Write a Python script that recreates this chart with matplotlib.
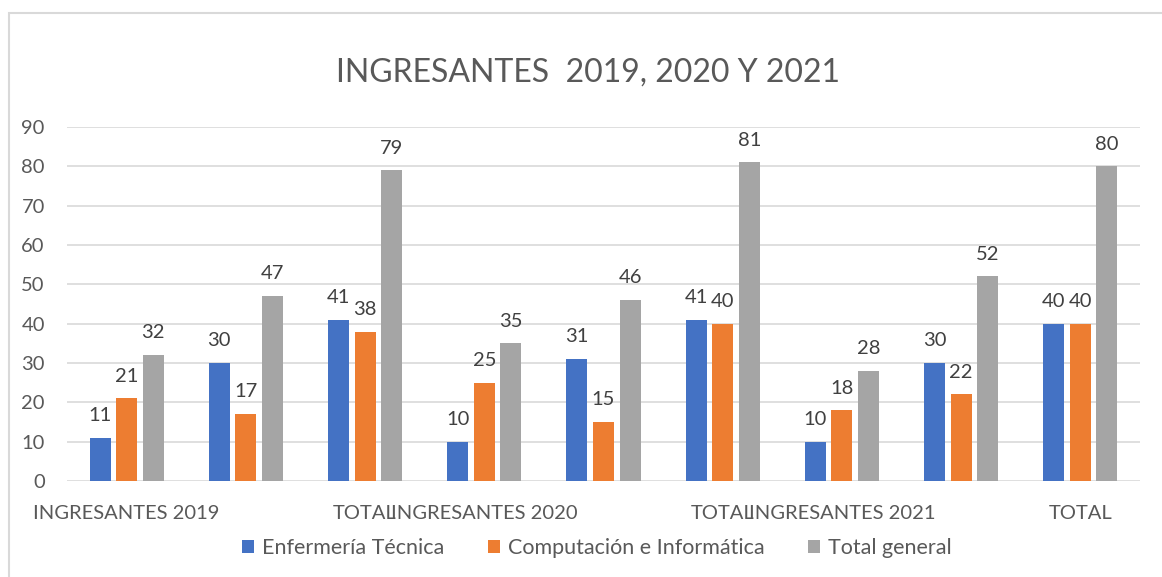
import numpy as np
import matplotlib.pyplot as plt
from matplotlib.patches import Rectangle

plt.rcParams['font.family'] = ['Lato', 'DejaVu Sans']

categorias = ['INGRESANTES 2019', '', 'TOTAL', 'INGRESANTES 2020', '', 'TOTAL',
              'INGRESANTES 2021', '', 'TOTAL']
enfermeria = [11, 30, 41, 10, 31, 41, 10, 30, 40]
computacion = [21, 17, 38, 25, 15, 40, 18, 22, 40]
total_general = [32, 47, 79, 35, 46, 81, 28, 52, 80]
series_nombres = ['Enfermería Técnica', 'Computación e Informática', 'Total general']
colores = ['#4472C4', '#ED7D31', '#A5A5A5']

TXT = '#595959'

fig = plt.figure(figsize=(11.62, 5.77), dpi=100)
ax = fig.add_axes([67 / 1162, 1 - 481 / 577, (1140 - 67) / 1162, (481 - 127) / 577])

x = np.arange(len(categorias))
ancho = 0.176
paso = 0.223
for i, (vals, nombre, col) in enumerate(zip([enfermeria, computacion, total_general],
                                            series_nombres, colores)):
    pos = x + (i - 1) * paso
    ax.bar(pos, vals, width=ancho, color=col, label=nombre, zorder=2)
    for px, v in zip(pos, vals):
        ax.annotate(str(v), (px, v), xytext=(0, 12), textcoords='offset points',
                    ha='center', va='baseline', fontsize=14.5, color='#404040')

ax.set_xlim(-0.5, len(categorias) - 0.5)
ax.set_ylim(0, 90)
ax.set_yticks(range(0, 91, 10))
ax.set_xticks(x)
ax.set_xticklabels(categorias)
ax.tick_params(axis='both', length=0, labelsize=14.5, labelcolor=TXT)
ax.tick_params(axis='y', pad=16)
ax.tick_params(axis='x', pad=17)
ax.grid(axis='y', color='#D9D9D9', linewidth=1.2, zorder=0)
for s in ax.spines.values():
    s.set_visible(False)

fig.text(588 / 1162, 1 - 73 / 577, 'INGRESANTES  2019, 2020 Y 2021', ha='center',
         va='center', fontsize=23, color=TXT)

fig.legend(loc='center', bbox_to_anchor=(597 / 1162, 1 - 548 / 577), ncol=3,
           frameon=False, fontsize=15.5, labelcolor=TXT, handlelength=0.55,
           handleheight=0.55, handletextpad=0.4, columnspacing=2.0)

fig.patches.append(Rectangle((8.5 / 1162, -0.1), 1.2, 1.1 - 12.5 / 577,
                             transform=fig.transFigure, fill=False,
                             edgecolor='#D9D9D9', linewidth=1.5))

fig.savefig('out.png', dpi=100)
